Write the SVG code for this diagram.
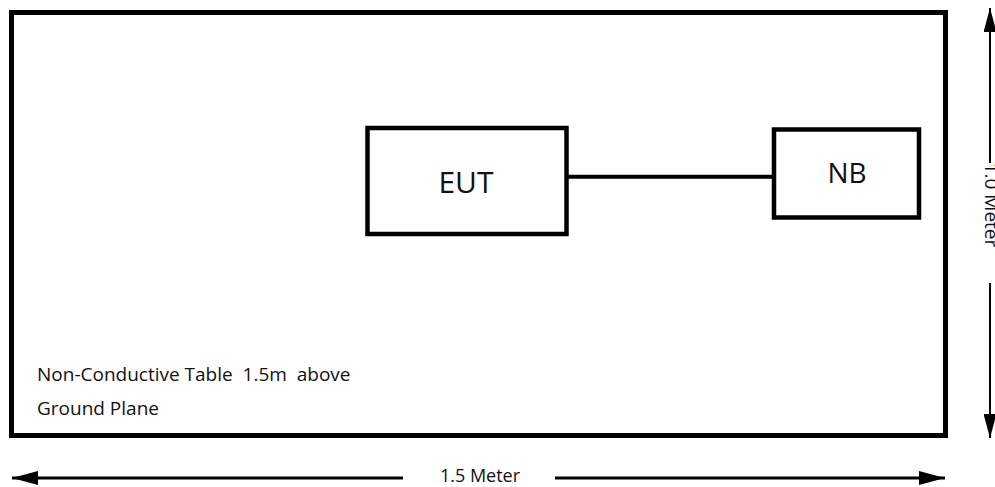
<svg xmlns="http://www.w3.org/2000/svg" width="995" height="487" viewBox="0 0 995 487">
<style>
.box{fill:none;stroke:#000;stroke-width:4.5}
.t{font-family:"Open Sans","Liberation Sans",sans-serif;fill:#111;white-space:pre}
.ln{stroke:#000;fill:none}
</style>
<defs>
<marker id="ahH" viewBox="0 0 26 14" refX="26" refY="7" markerWidth="26" markerHeight="14" orient="auto" markerUnits="userSpaceOnUse">
<path d="M0,0 L26,7 L0,14 Z" fill="#000"/>
</marker>
<marker id="ahV" viewBox="0 0 24 13" refX="24" refY="6.5" markerWidth="24" markerHeight="13" orient="auto" markerUnits="userSpaceOnUse">
<path d="M0,0 L24,6.5 L0,13 Z" fill="#000"/>
</marker>
</defs>
<rect width="995" height="487" fill="#fff"/>
<g id="table">
<rect class="box" x="11.5" y="12.5" width="934" height="423" style="stroke-width:5"/>
<text class="t" x="37" y="381" font-size="19">Non-Conductive Table  1.5m  above</text>
<text class="t" x="37" y="415" font-size="19">Ground Plane</text>
</g>
<g id="eut">
<rect class="box" x="367.5" y="128" width="199" height="106"/>
<text class="t" x="466" y="193" font-size="30" text-anchor="middle">EUT</text>
</g>
<g id="nb">
<rect class="box" x="774" y="129.5" width="145" height="88"/>
<text class="t" x="847" y="183" font-size="28" text-anchor="middle">NB</text>
</g>
<g id="connectors">
<line class="ln" x1="568" y1="176.7" x2="772" y2="176.7" stroke-width="4"/>
<line class="ln" x1="403" y1="478" x2="12" y2="478" stroke-width="3" marker-end="url(#ahH)"/>
<line class="ln" x1="555" y1="478" x2="945" y2="478" stroke-width="3" marker-end="url(#ahH)"/>
<line class="ln" x1="990" y1="163" x2="990" y2="8" stroke-width="2" marker-end="url(#ahV)"/>
<line class="ln" x1="990" y1="283" x2="990" y2="438" stroke-width="2" marker-end="url(#ahV)"/>
</g>
<g id="dims">
<text class="t" x="480" y="482" font-size="18" text-anchor="middle">1.5 Meter</text>
<text class="t" font-size="19" text-anchor="middle" transform="translate(985,205) rotate(90)">1.0 Meter</text>
</g>
</svg>
